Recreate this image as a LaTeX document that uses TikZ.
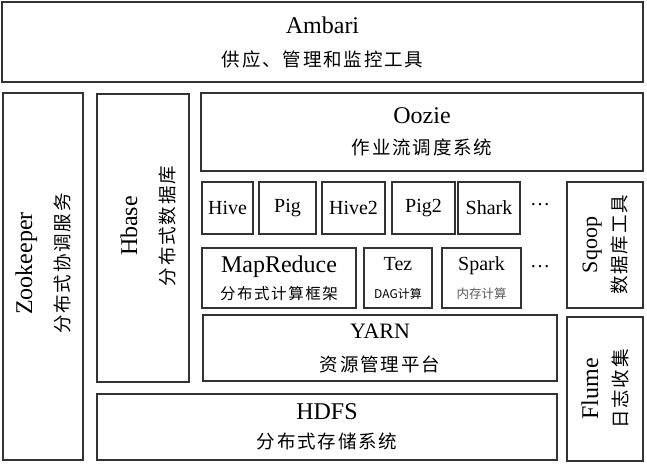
\documentclass[tikz,border=0pt]{standalone}
\usepackage{fontspec}
\setmainfont{Liberation Serif}
\newfontfamily\zh{Noto Sans CJK SC}[LetterSpace=10]
\newfontfamily\zhtight{Noto Sans CJK SC}
\newcommand{\bigname}[1]{{\fontsize{24}{24}\selectfont #1}}

\begin{document}
\begin{tikzpicture}[
    x=1pt, y=-1pt,
    box/.style={draw=black!80, line width=1.2pt, inner sep=0pt, align=center, font=\fontsize{18.5}{33}\selectfont},
    vbox/.style={box, rotate=90},
    tool/.style={box, font=\fontsize{20}{24}\selectfont},
    vtext/.style={rotate=90, align=center, inner sep=0pt, font=\fontsize{18.5}{37}\selectfont},
    dots/.style={inner sep=0pt, font=\fontsize{20}{24}\selectfont}
]
\useasboundingbox (0,0) rectangle (647,465);

% Management layer
\node[box, minimum width=641, minimum height=80] (ambari) at (322.5,42) {\bigname{Ambari}\\{\zh 供应、管理和监控工具}};

% Left columns
\node[box, minimum width=80, minimum height=367] (zookeeper) at (43,276.5) {};
\node[vtext] (zookeepertext) at ([yshift=13pt]zookeeper.center) {\bigname{Zookeeper}\\{\zh 分布式协调服务}};
\node[box, minimum width=92, minimum height=288] (hbase) at (143,238) {};
\node[vtext] (hbasetext) at ([xshift=5pt, yshift=12pt]hbase.center) {\bigname{Hbase}\\{\zh 分布式数据库}};

% Workflow
\node[box, minimum width=442, minimum height=78] (oozie) at (422,132) {\bigname{Oozie}\\[-2pt]{\zh 作业流调度系统}};

% Query tools
\node[tool, minimum width=51, minimum height=52] (hive) at (227.5,208) {Hive};
\node[tool, minimum width=57, minimum height=52] (pig) at (287.5,208) {Pig};
\node[tool, minimum width=63, minimum height=52] (hive2) at (353.5,208) {Hive2};
\node[tool, minimum width=63, minimum height=52] (pig2) at (423.5,208) {Pig2};
\node[tool, minimum width=62, minimum height=52] (shark) at (489,208) {Shark};
\node[dots] (more1) at (540,205) {…};

% Computing engines
\node[box, minimum width=154, minimum height=60, font=\fontsize{15.5}{27}\selectfont] (mapreduce) at (279,278) {\bigname{MapReduce}\\{\zh 分布式计算框架}};
\node[tool, minimum width=68, minimum height=60] (tez) at (398,278) {Tez\\[4pt]{\zhtight\fontsize{12}{12}\selectfont DAG计算}};
\node[tool, minimum width=79, minimum height=60] (spark) at (481.5,278) {Spark\\[4pt]{\zhtight\fontsize{12.5}{12.5}\selectfont\color{black!65}内存计算}};
\node[dots] (more2) at (540,267) {…};

% Resource management and storage
\node[box, minimum width=354, minimum height=66] (yarn) at (380,348) {{\fontsize{22}{22}\selectfont YARN}\\{\zh 资源管理平台}};
\node[box, minimum width=460, minimum height=66] (hdfs) at (327,427) {\bigname{HDFS}\\[-4pt]{\zh 分布式存储系统}};

% Data collection
\node[vbox, minimum width=126, minimum height=76] (sqoop) at (605,245) {{\fontsize{22}{22}\selectfont Sqoop}\\[-4pt]{\zh 数据库工具}};
\node[vbox, minimum width=144, minimum height=76] (flume) at (605,389) {\bigname{Flume}\\[-4pt]{\zh 日志收集}};

\end{tikzpicture}
\end{document}
